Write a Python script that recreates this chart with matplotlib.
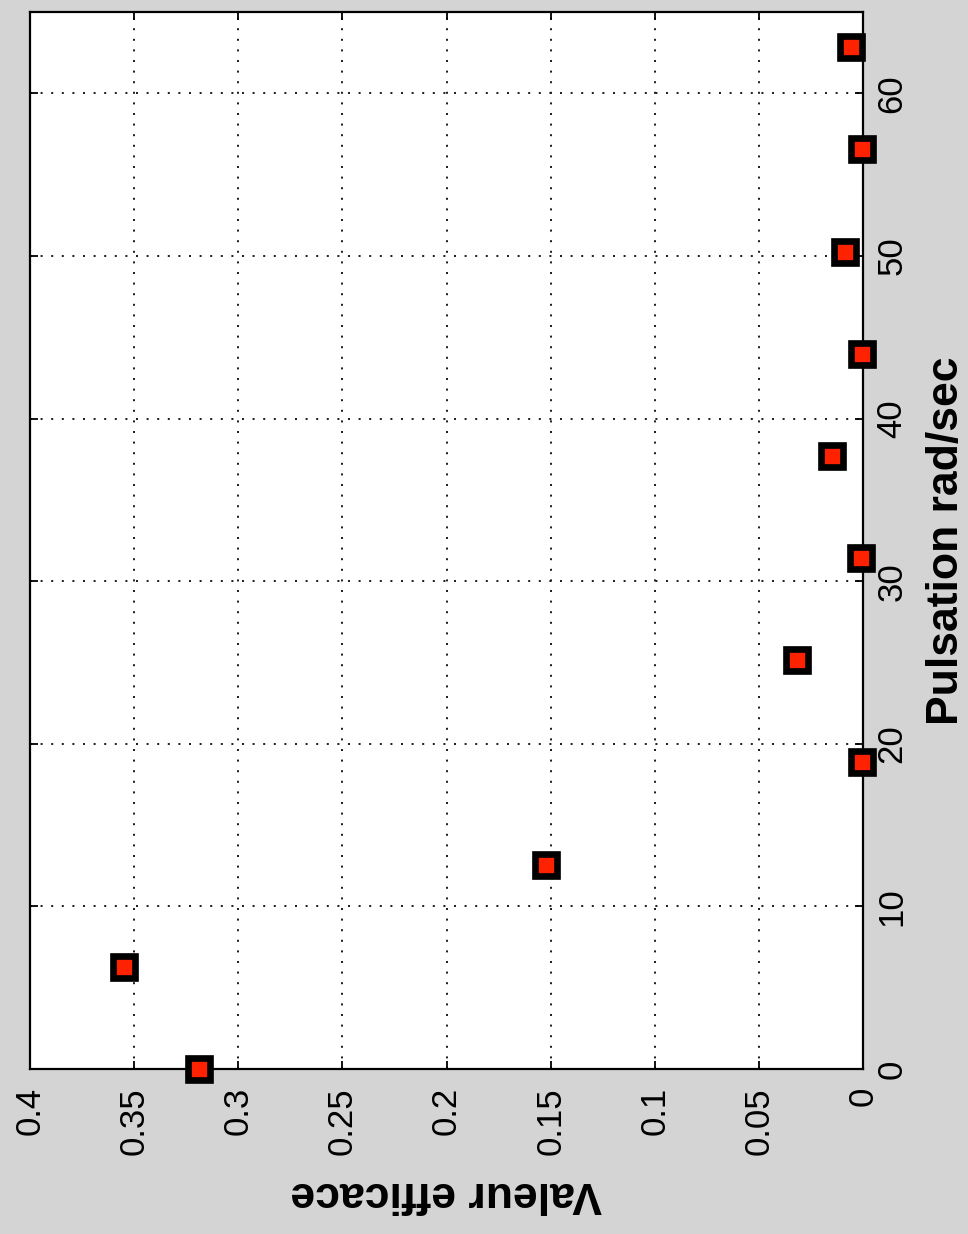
import matplotlib
matplotlib.use("Agg")
import matplotlib.pyplot as plt

# Measured samples: angular frequency (rad/s) and RMS value
pulsation = [0.0, 6.28, 12.57, 18.85, 25.13, 31.42, 37.70, 43.98, 50.27, 56.55, 62.83]
valeur = [0.319, 0.355, 0.152, 0.0005, 0.0317, 0.001, 0.0149, 0.0005, 0.0086, 0.0005, 0.0058]

value_ticks = [0, 0.05, 0.1, 0.15, 0.2, 0.25, 0.3, 0.35, 0.4]
value_tick_labels = ["0", "0.05", "0.1", "0.15", "0.2", "0.25", "0.3", "0.35", "0.4"]
puls_ticks = [0, 10, 20, 30, 40, 50, 60]
puls_tick_labels = ["0", "10", "20", "30", "40", "50", "60"]

plt.rcParams["font.family"] = ["Liberation Sans", "DejaVu Sans"]

fig = plt.figure(figsize=(9.68, 12.34), dpi=100, facecolor="#d4d4d4")
ax = fig.add_axes([30 / 968, 1 - 1069 / 1234, (863 - 30) / 968, (1069 - 12) / 1234])
ax.set_facecolor("white")

# The plot is laid out turned a quarter turn: values run right-to-left, pulsation upward
ax.plot(valeur, pulsation, linestyle="none", marker="s", markersize=15.5,
        markerfacecolor="#ff2200", markeredgecolor="black", markeredgewidth=4.8,
        clip_on=False, zorder=5)

ax.set_xlim(0.4, 0)
ax.set_ylim(0, 65)

ax.set_xticks(value_ticks)
ax.set_xticklabels(value_tick_labels, rotation=90, fontsize=25, va="top", ha="center")
ax.set_yticks(puls_ticks)
ax.set_yticklabels(puls_tick_labels, rotation=90, fontsize=25, va="center")

ax.tick_params(axis="both", direction="in", length=6, width=1.3, color="black",
               top=True, bottom=True, left=True, right=True,
               labelleft=False, labelright=True, labelbottom=True, labeltop=False)
ax.tick_params(axis="x", pad=13)
ax.tick_params(axis="y", pad=9)

for s in ax.spines.values():
    s.set_linewidth(1.6)
    s.set_color("black")

ax.grid(True, color="#222222", linestyle=(0, (1, 4.3)), linewidth=1.44)
ax.set_axisbelow(True)

ax.text(1.10, 0.5, "Pulsation rad/sec", transform=ax.transAxes, rotation=90,
        fontsize=32, fontweight="bold", ha="center", va="center")
ax.text(0.5, -0.118, "Valeur efficace", transform=ax.transAxes, rotation=180,
        fontsize=32, fontweight="bold", ha="center", va="center")

fig.savefig("out.png", dpi=100, facecolor=fig.get_facecolor())
